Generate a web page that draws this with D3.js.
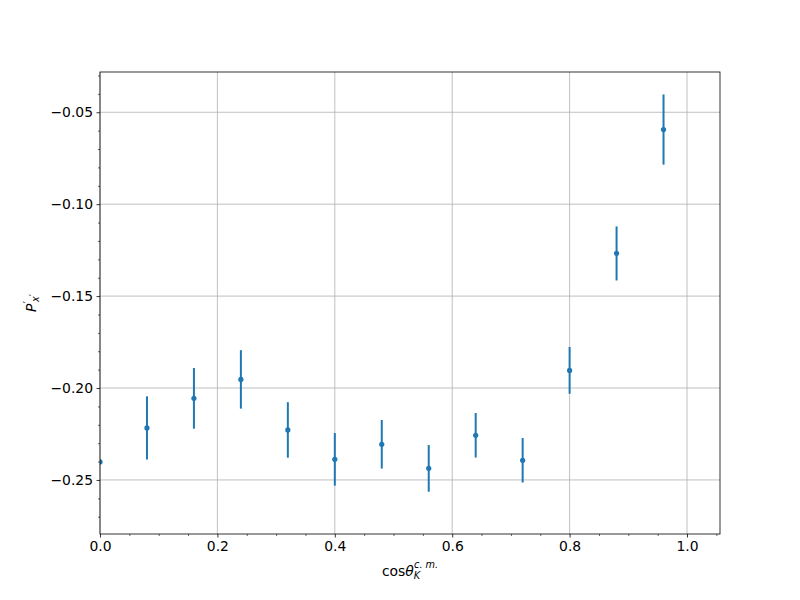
<!DOCTYPE html>
<html><head><meta charset="utf-8">
<script src="https://cdn.jsdelivr.net/npm/d3@7"></script>
<style>body{margin:0;background:#fff}svg{display:block}text{font-family:"DejaVu Sans",sans-serif}</style>
</head><body>
<script>
const cosTheta = [0.00, 0.08, 0.16, 0.24, 0.32, 0.40, 0.48, 0.56, 0.64, 0.72, 0.80, 0.88, 0.96];
const polarization = [-0.2402, -0.2217, -0.2056, -0.1953, -0.2228, -0.2388, -0.2306, -0.2437, -0.2257, -0.2393, -0.1904, -0.1268, -0.0594];
const errors = [0.0, 0.0172, 0.0165, 0.0159, 0.0151, 0.0143, 0.0132, 0.0127, 0.0121, 0.0121, 0.0127, 0.0147, 0.0191];
const xTicks = [0.0, 0.2, 0.4, 0.6, 0.8, 1.0];
const yTicks = [-0.25, -0.20, -0.15, -0.10, -0.05];

const W = 800, H = 600;
const L = 100, R = 720, T = 72, B = 534;
const svg = d3.select("body").append("svg").attr("width", W).attr("height", H);
const x = d3.scaleLinear().domain([0, 1.0562]).range([L, R]);
const y = d3.scaleLinear().domain([-0.2794, -0.0281]).range([B, T]);
const fmtY = v => d3.format(".2f")(v).replace("-", "\u2212");
const fmtX = v => d3.format(".1f")(v);

// grid
const g = svg.append("g");
g.selectAll(".gx").data(xTicks).enter().append("line")
  .attr("x1", d => x(d)).attr("x2", d => x(d)).attr("y1", T).attr("y2", B)
  .attr("stroke", "#b0b0b0").attr("stroke-width", 0.8);
g.selectAll(".gy").data(yTicks).enter().append("line")
  .attr("x1", L).attr("x2", R).attr("y1", d => y(d)).attr("y2", d => y(d))
  .attr("stroke", "#b0b0b0").attr("stroke-width", 0.8);

// clip
svg.append("clipPath").attr("id", "clip").append("rect")
  .attr("x", L).attr("y", T).attr("width", R - L).attr("height", B - T);
const data = cosTheta.map((c, i) => ({c, p: polarization[i], e: errors[i]}));
const plot = svg.append("g").attr("clip-path", "url(#clip)");
plot.selectAll(".eb").data(data.filter(d => d.e > 0)).enter().append("line")
  .attr("x1", d => x(d.c)).attr("x2", d => x(d.c))
  .attr("y1", d => y(d.p - d.e)).attr("y2", d => y(d.p + d.e))
  .attr("stroke", "#1f77b4").attr("stroke-width", 2);
plot.selectAll(".pt").data(data).enter().append("circle")
  .attr("cx", d => x(d.c)).attr("cy", d => y(d.p)).attr("r", 2.6)
  .attr("fill", "#1f77b4");

// axes
const xAxis = d3.axisBottom(x).tickValues(xTicks).tickFormat(fmtX).tickSizeOuter(0).tickSize(3.5).tickPadding(3.5);
const xMinor = d3.axisBottom(x).tickValues(d3.range(0, 1.06, 0.05).filter(v => Math.abs(v*5 - Math.round(v*5)) > 1e-6)).tickFormat("").tickSizeOuter(0).tickSize(2);
const yAxis = d3.axisLeft(y).tickValues(yTicks).tickFormat(fmtY).tickSizeOuter(0).tickSize(3.5).tickPadding(3.5);
const yMinorVals = d3.range(-27, -2).map(v => v / 100).filter(v => Math.abs(v*20 - Math.round(v*20)) > 1e-6);
const yMinor = d3.axisLeft(y).tickValues(yMinorVals).tickFormat("").tickSizeOuter(0).tickSize(2);

function styleAxis(sel, minor) {
  sel.select(".domain").remove();
  sel.selectAll("line").attr("stroke", "#000").attr("stroke-width", minor ? 0.6 : 0.8);
  sel.selectAll("text").attr("font-size", "13.9px").attr("fill", "#000").attr("font-family", "DejaVu Sans");
}
svg.append("g").attr("transform", `translate(0,${B})`).call(xAxis).call(s => styleAxis(s, false));
svg.append("g").attr("transform", `translate(0,${B})`).call(xMinor).call(s => styleAxis(s, true));
svg.append("g").attr("transform", `translate(${L},0)`).call(yAxis).call(s => styleAxis(s, false));
svg.append("g").attr("transform", `translate(${L},0)`).call(yMinor).call(s => styleAxis(s, true));

// spines
svg.append("rect").attr("x", L).attr("y", T).attr("width", R - L).attr("height", B - T)
  .attr("fill", "none").attr("stroke", "#000").attr("stroke-width", 0.8);

// x label: cos θ_K^{c.m.}
const xl = svg.append("text").attr("x", 410).attr("y", 576).attr("text-anchor", "middle")
  .attr("font-size", "13.9px").attr("fill", "#000");
xl.append("tspan").text("cos");
xl.append("tspan").attr("font-style", "italic").text("\u03b8");
xl.append("tspan").attr("font-style", "italic").attr("font-size", "9.7px").attr("dy", 3).text("K");
xl.append("tspan").attr("font-style", "italic").attr("font-size", "9.7px").attr("dx", -6).attr("dy", -11).text("c. m.");

// y label: P'_{x'}
const yl = svg.append("text").attr("transform", "translate(36,303) rotate(-90)").attr("text-anchor", "middle")
  .attr("font-size", "13.9px").attr("fill", "#000");
yl.append("tspan").attr("font-style", "italic").text("P");
yl.append("tspan").attr("font-size", "11px").attr("dy", -5).text("\u2032");
yl.append("tspan").attr("font-style", "italic").attr("font-size", "9.7px").attr("dx", -1).attr("dy", 8).text("x");
yl.append("tspan").attr("font-size", "9.7px").attr("dy", -2).text("\u2032");
</script>
</body></html>
